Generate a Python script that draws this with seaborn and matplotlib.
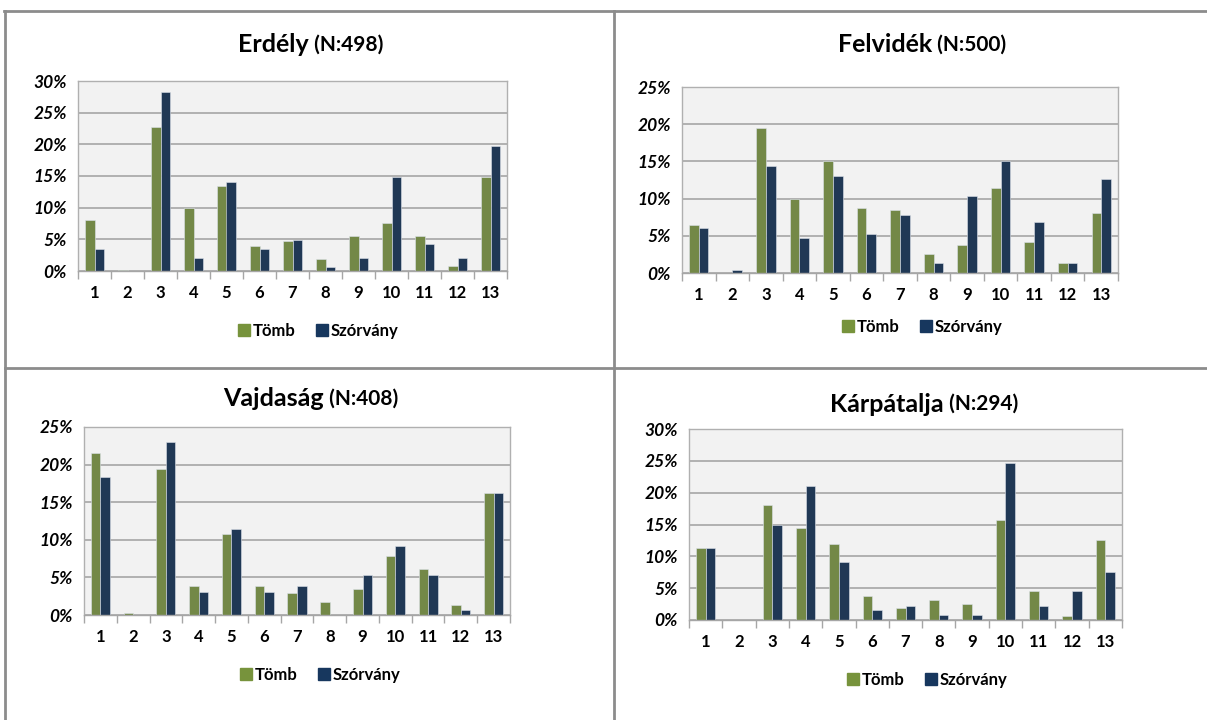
import numpy as np
import pandas as pd
import matplotlib
matplotlib.use('Agg')
import matplotlib.pyplot as plt
import seaborn as sns
from matplotlib.lines import Line2D
from matplotlib.ticker import FixedLocator, FuncFormatter

# Data (percentages)
categories = [str(i) for i in range(1, 14)]
groups = ['Tömb', 'Szórvány']

regions = ['Erdély', 'Felvidék', 'Vajdaság', 'Kárpátalja']
region_n = [498, 500, 408, 294]
y_max = [30, 25, 25, 30]

erdely_tomb = [8.0, 0.2, 22.8, 10.0, 13.4, 3.9, 4.7, 1.9, 5.6, 7.6, 5.6, 0.8, 14.8]
erdely_szorvany = [3.4, 0.0, 28.2, 2.0, 14.0, 3.4, 4.9, 0.7, 2.0, 14.8, 4.2, 2.0, 19.7]

felvidek_tomb = [6.5, 0.0, 19.5, 10.0, 15.0, 8.8, 8.5, 2.5, 3.7, 11.4, 4.1, 1.4, 8.1]
felvidek_szorvany = [6.0, 0.4, 14.4, 4.7, 13.1, 5.2, 7.8, 1.3, 10.4, 15.1, 6.9, 1.3, 12.6]

vajdasag_tomb = [21.6, 0.3, 19.4, 3.9, 10.8, 3.9, 2.9, 1.7, 3.5, 7.9, 6.1, 1.3, 16.2]
vajdasag_szorvany = [18.3, 0.0, 23.0, 3.0, 11.5, 3.0, 3.8, 0.0, 5.3, 9.2, 5.3, 0.7, 16.2]

karpatalja_tomb = [11.3, 0.0, 18.1, 14.5, 11.9, 3.7, 1.9, 3.1, 2.5, 15.7, 4.5, 0.7, 12.5]
karpatalja_szorvany = [11.3, 0.0, 15.0, 21.1, 9.1, 1.5, 2.2, 0.8, 0.8, 24.7, 2.2, 4.5, 7.5]

region_data = [
    (erdely_tomb, erdely_szorvany),
    (felvidek_tomb, felvidek_szorvany),
    (vajdasag_tomb, vajdasag_szorvany),
    (karpatalja_tomb, karpatalja_szorvany),
]

colors = {'Tömb': '#77933C', 'Szórvány': '#17375E'}
grid_color = '#A6A6A6'
font = ['Lato', 'DejaVu Sans']

W, H = 1207, 720
fig = plt.figure(figsize=(W / 100, H / 100), dpi=100)
plt.rcParams['font.family'] = font


def px_box(x0, y0, x1, y1):
    return [x0 / W, 1 - y1 / H, (x1 - x0) / W, (y1 - y0) / H]


# plot areas in pixels, title centres, legend centres
axes_px = [(78, 81, 507, 271), (682, 87, 1118, 273),
           (84, 427, 510, 615), (689, 429, 1122, 620)]
title_px = [(311, 45), (922, 45), (311, 399), (924, 404)]
legend_px = [(318, 331), (922, 327), (320, 675), (927, 680)]

# panel frame lines
frame = dict(color='#8C8C8C', lw=2, transform=fig.transFigure)
fig.add_artist(Line2D([4 / W, 1], [1 - 11 / H, 1 - 11 / H], **frame))
fig.add_artist(Line2D([5 / W, 5 / W], [1 - 11 / H, 0], **frame))
fig.add_artist(Line2D([614 / W, 614 / W], [1 - 11 / H, 0], **frame))
fig.add_artist(Line2D([5 / W, 1], [1 - 368 / H, 1 - 368 / H], **frame))

titles = []
for i, region in enumerate(regions):
    tomb, szorvany = region_data[i]
    df = pd.DataFrame({
        'kategoria': categories * 2,
        'csoport': [groups[0]] * 13 + [groups[1]] * 13,
        'ertek': tomb + szorvany,
    })
    ax = fig.add_axes(px_box(*axes_px[i]))
    ax.set_facecolor('#F2F2F2')
    sns.barplot(data=df, x='kategoria', y='ertek', hue='csoport', order=categories,
                hue_order=groups, palette=colors, width=0.58, gap=0,
                edgecolor='#DDE3EA', linewidth=0.4, legend=False, ax=ax)
    ax.set_ylim(0, y_max[i])
    ax.set_xlim(-0.5, 12.5)
    ax.yaxis.set_major_locator(FixedLocator(np.arange(0, y_max[i] + 1, 5)))
    ax.yaxis.set_major_formatter(FuncFormatter(lambda v, p: f'{v:.0f}%'))
    ax.grid(axis='y', color=grid_color, lw=1.2)
    ax.set_axisbelow(True)
    for s in ax.spines.values():
        s.set_color('#B0B0B0')
        s.set_linewidth(1)
    ax.spines['bottom'].set_color(grid_color)
    ax.tick_params(axis='y', length=0, pad=8)
    ax.tick_params(axis='x', which='major', length=0, pad=10)
    ax.set_xticks(np.arange(-0.5, 13, 1), minor=True)
    ax.tick_params(axis='x', which='minor', length=6, color=grid_color, width=1)
    for lab in ax.get_yticklabels():
        lab.set_fontsize(12.5)
        lab.set_fontweight('bold')
        lab.set_fontstyle('italic')
    for lab in ax.get_xticklabels():
        lab.set_fontsize(12)
        lab.set_fontweight('bold')
    ax.set_xlabel('')
    ax.set_ylabel('')

    handles = [Line2D([], [], marker='s', ls='', markersize=9, color=colors[g]) for g in groups]
    lx, ly = legend_px[i]
    fig.legend(handles, groups, loc='center', bbox_to_anchor=(lx / W, 1 - ly / H),
               ncol=2, frameon=False, handletextpad=0.1, columnspacing=1.2,
               handlelength=0.8, prop={'family': font, 'weight': 'bold', 'size': 12})

    tx, ty = title_px[i]
    t1 = fig.text(0, 1 - ty / H, region, fontsize=18, fontweight='bold', va='center')
    t2 = fig.text(0, 1 - ty / H, f' (N:{region_n[i]})', fontsize=15, fontweight='bold', va='center')
    titles.append((t1, t2, tx))

fig.canvas.draw()
r = fig.canvas.get_renderer()
for t1, t2, tx in titles:
    w1 = t1.get_window_extent(r).width
    w2 = t2.get_window_extent(r).width
    x0 = tx - (w1 + w2) / 2
    t1.set_x(x0 / W)
    t2.set_x((x0 + w1) / W)

fig.savefig('out.png', dpi=100)
